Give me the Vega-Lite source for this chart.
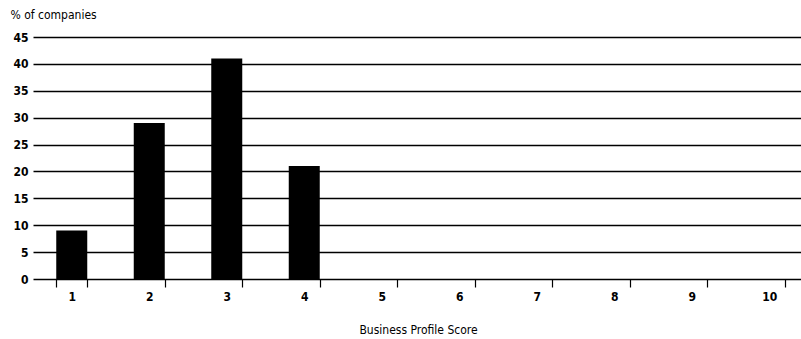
{
  "$schema": "https://vega.github.io/schema/vega-lite/v6.json",
  "autosize": {"type": "none"},
  "width": 775,
  "height": 242,
  "padding": {"left": 33, "top": 37, "right": 0, "bottom": 60},
  "background": "white",
  "config": {
    "view": {"stroke": null},
    "font": "DejaVu Sans Condensed",
    "axis": {"labelFont": "DejaVu Sans Condensed", "titleFont": "DejaVu Sans Condensed", "labelColor": "black", "titleColor": "black", "labelFontSize": 12, "titleFontSize": 12, "titleFontWeight": "normal", "labelFontWeight": "bold"}
  },
  "data": {
    "values": [
      {"score": "1", "pct": 9},
      {"score": "2", "pct": 29},
      {"score": "3", "pct": 41},
      {"score": "4", "pct": 21},
      {"score": "5", "pct": 0},
      {"score": "6", "pct": 0},
      {"score": "7", "pct": 0},
      {"score": "8", "pct": 0},
      {"score": "9", "pct": 0},
      {"score": "10", "pct": 0}
    ]
  },
  "mark": {"type": "bar", "color": "black"},
  "encoding": {
    "x": {
      "field": "score", "type": "ordinal", "sort": null,
      "scale": {"paddingInner": 0.6, "paddingOuter": 0.3},
      "axis": {
        "title": "Business Profile Score",
        "titleFontWeight": "normal",
        "labelAngle": 0, "labelPadding": 4,
        "tickBand": "extent", "tickSize": 8, "tickColor": "black", "tickWidth": 1.2,
        "domain": false, "titlePadding": 22, "titleX": 385
      }
    },
    "y": {
      "field": "pct", "type": "quantitative",
      "scale": {"domain": [0, 45]},
      "axis": {
        "values": [0, 5, 10, 15, 20, 25, 30, 35, 40, 45],
        "title": "% of companies",
        "titleFontWeight": "normal",
        "titleAngle": 0, "titleAlign": "left", "titleBaseline": "middle",
        "titleX": -23, "titleY": -23,
        "grid": true, "gridColor": "black", "gridWidth": 1.5, "gridOpacity": 1,
        "domain": false, "ticks": false, "labelPadding": 5
      }
    }
  }
}
